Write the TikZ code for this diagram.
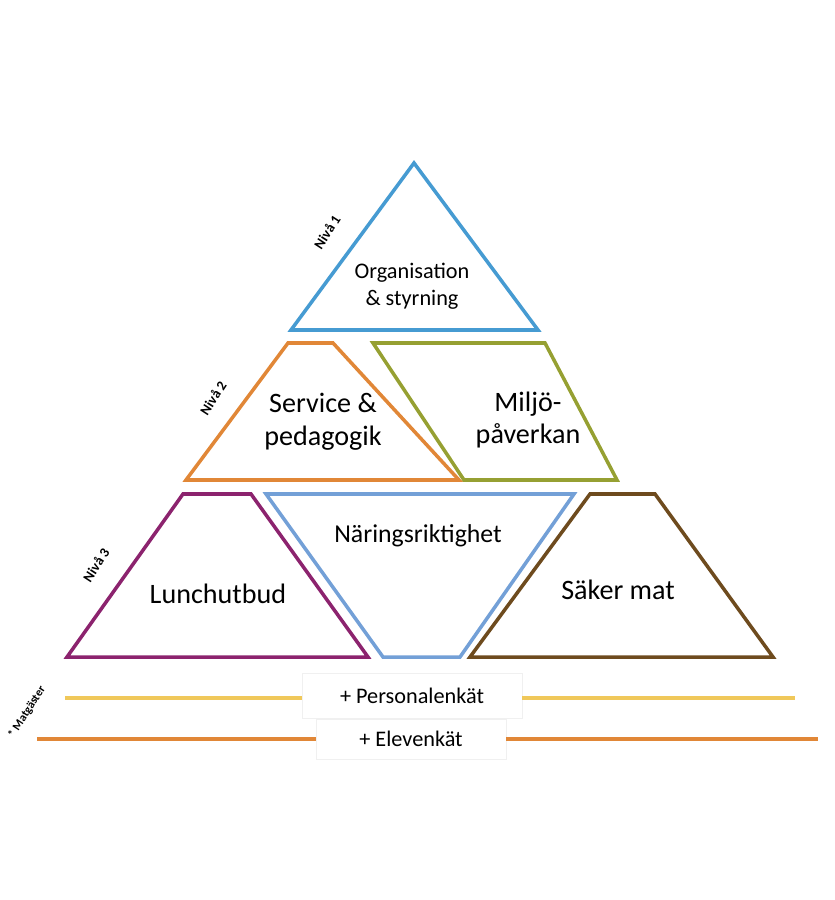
\documentclass[tikz,border=0pt]{standalone}
\usepackage{fontspec}
\setmainfont{Carlito}
\usetikzlibrary{positioning,calc}
\definecolor{niva1}{RGB}{70,155,210}
\definecolor{niva2o}{RGB}{225,135,55}
\definecolor{niva2g}{RGB}{150,160,50}
\definecolor{niva3p}{RGB}{140,35,110}
\definecolor{niva3b}{RGB}{115,160,215}
\definecolor{niva3m}{RGB}{110,75,30}
\definecolor{gul}{RGB}{240,200,90}
\definecolor{ora}{RGB}{225,135,55}
\begin{document}
\begin{tikzpicture}[x=0.03cm,y=-0.03cm]
\tikzstyle{level}=[line width=3pt, line join=miter]
\tikzstyle{lbl}=[font=\fontsize{19}{23}\selectfont, align=center]
\tikzstyle{big}=[font=\fontsize{24}{28}\selectfont, align=center]
\tikzstyle{niva}=[font=\bfseries\fontsize{12}{14}\selectfont, rotate=57]
\useasboundingbox (0,0) rectangle (834,900);
% pyramid
\draw[level,niva1] (414,163) -- (538,330) -- (291,330) -- cycle;
\draw[level,niva2o] (288,343) -- (333,343) -- (459,480) -- (186,480) -- cycle;
\draw[level,niva2g] (373,343) -- (545,343) -- (617,480) -- (464,480) -- cycle;
\draw[level,niva3p] (183,494) -- (251,494) -- (368,657) -- (67,657) -- cycle;
\draw[level,niva3b] (266,494) -- (574,494) -- (460,657) -- (383,657) -- cycle;
\draw[level,niva3m] (590,494) -- (655,494) -- (773,657) -- (470,657) -- cycle;
% texts
\node[lbl] (org) at (412,286) {Organisation\\ \& styrning};
\node[big] (serv) at (323,422) {Service \&\\ pedagogik};
\node[big] (milj) at (528,420) {Miljö-\\påverkan};
\node[lbl,font=\fontsize{22}{26}\selectfont] (nar) at (418,536) {Näringsriktighet};
\node[big] (lunch) at (218,594) {Lunchutbud};
\node[big] (saker) at (618,590) {Säker mat};
\node[niva] (n1) at (327,232) {Nivå 1};
\node[niva] (n2) at (213,398) {Nivå 2};
\node[niva] (n3) at (96,565) {Nivå 3};
\node[niva,font=\bfseries\fontsize{10}{12}\selectfont] (mat) at (27,712) {* Matgäster};
% enkater
\node[fill=white,draw=black!6,minimum width=220*0.03cm,minimum height=45*0.03cm,lbl] (pers) at (412,696) {+ Personalenkät};
\node[fill=white,draw=black!6,minimum width=190*0.03cm,minimum height=40*0.03cm,lbl] (elev) at (411,739) {+ Elevenkät};
\coordinate (p1) at (65,698);
\coordinate (p2) at (795,698);
\coordinate (e1) at (37,739);
\coordinate (e2) at (818,739);
\begin{scope}[line width=3.75pt]
\draw[gul] (p1) -- (pers.west|-p1);
\draw[gul] (pers.east|-p2) -- (p2);
\draw[ora] (e1) -- (elev.west|-e1);
\draw[ora] (elev.east|-e2) -- (e2);
\end{scope}
\end{tikzpicture}
\end{document}
